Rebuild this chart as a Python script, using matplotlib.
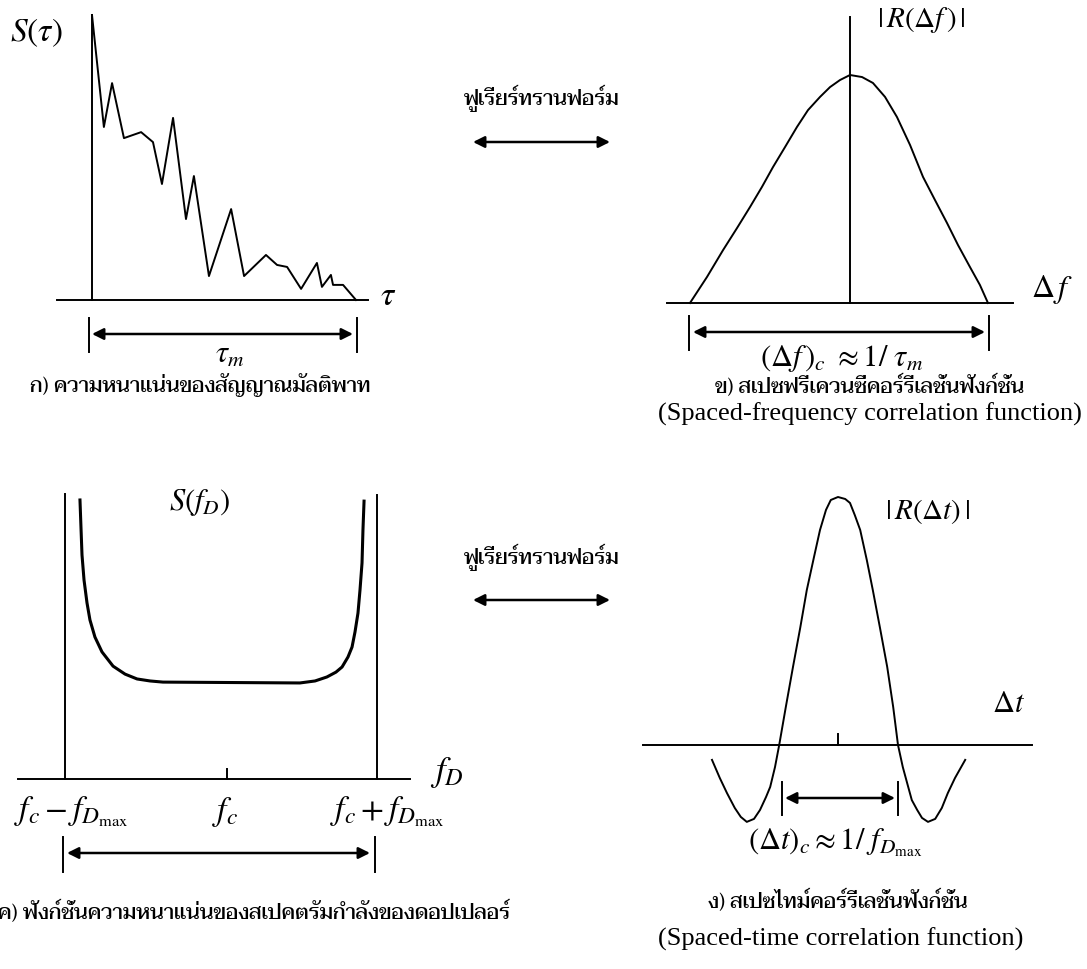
import matplotlib
matplotlib.use("Agg")
import matplotlib.pyplot as plt
from matplotlib.lines import Line2D
from matplotlib.patches import FancyArrowPatch

plt.rcParams['font.family'] = ['Liberation Serif', 'DejaVu Serif']
plt.rcParams['mathtext.fontset'] = 'stix'

THAI = ['Taviraj', 'Sarabun', 'Noto Serif Thai', 'Noto Sans Thai', 'Liberation Serif']

# ก) multipath delay profile S(tau), tau in units of tau_m
delay_tau = [0.0, 0.045, 0.076, 0.121, 0.186, 0.231, 0.265, 0.307, 0.356, 0.386,
             0.443, 0.527, 0.576, 0.659, 0.701, 0.739, 0.792, 0.852, 0.871, 0.905,
             0.913, 0.951, 1.0]
delay_power = [1.0, 0.607, 0.761, 0.568, 0.589, 0.554, 0.407, 0.639, 0.284, 0.435,
               0.084, 0.319, 0.084, 0.158, 0.123, 0.116, 0.039, 0.130, 0.046, 0.088,
               0.053, 0.053, 0.0]

# ข) spaced-frequency correlation |R(delta f)|
freq_sep = [-1.074, -0.960, -0.852, -0.758, -0.671, -0.591, -0.517, -0.436, -0.356,
            -0.282, -0.201, -0.134, -0.067, 0.0, 0.081, 0.154, 0.235, 0.315, 0.403,
            0.490, 0.570, 0.651, 0.725, 0.805, 0.872, 0.926]
freq_corr = [0.0, 0.114, 0.232, 0.329, 0.421, 0.509, 0.596, 0.684, 0.772, 0.846,
             0.904, 0.947, 0.978, 1.0, 0.991, 0.965, 0.904, 0.816, 0.693, 0.553,
             0.452, 0.351, 0.254, 0.158, 0.079, 0.0]

# ค) Doppler power spectrum S(f_D), f in units of f_Dmax
doppler_f = [-0.904, -0.897, -0.891, -0.878, -0.859, -0.840, -0.808, -0.763, -0.692,
             -0.615, -0.538, -0.455, -0.372, 0.506, 0.603, 0.679, 0.737, 0.776, 0.814,
             0.840, 0.859, 0.878, 0.891, 0.904, 0.910, 0.917]
doppler_psd = [0.979, 0.874, 0.786, 0.698, 0.618, 0.558, 0.498, 0.446, 0.396, 0.368,
               0.351, 0.344, 0.340, 0.337, 0.344, 0.358, 0.375, 0.393, 0.428, 0.463,
               0.516, 0.582, 0.663, 0.758, 0.874, 0.975]
doppler_fc = 0.04

# ง) spaced-time correlation |R(delta t)|
time_sep = [-2.10, -1.97, -1.85, -1.72, -1.62, -1.52, -1.40, -1.30, -1.20, -1.13,
            -1.05, -0.98, -0.87, -0.75, -0.63, -0.52, -0.40, -0.30, -0.20, -0.12,
            0.0, 0.12, 0.20, 0.28, 0.37, 0.48, 0.58, 0.70, 0.82, 0.92, 1.0, 1.08,
            1.17, 1.23, 1.32, 1.40, 1.50, 1.62, 1.73, 1.83, 1.95, 2.12]
time_corr = [-0.060, -0.133, -0.194, -0.254, -0.290, -0.310, -0.298, -0.262, -0.210,
             -0.169, -0.089, 0.0, 0.153, 0.315, 0.472, 0.625, 0.758, 0.867, 0.948,
             0.988, 1.0, 0.992, 0.976, 0.927, 0.867, 0.746, 0.625, 0.472, 0.315,
             0.153, 0.0, -0.089, -0.169, -0.222, -0.262, -0.294, -0.310, -0.298,
             -0.254, -0.194, -0.133, -0.060]

W, H = 1087, 969
LW = 1.4
fig = plt.figure(figsize=(W / 100, H / 100), dpi=100)


def fx(x):
    return x / W


def fy(y):
    return 1 - y / H


def make_panel(box, x0, xs, y0, ys):
    left, top, right, bottom = box
    ax = fig.add_axes([fx(left), fy(bottom), (right - left) / W, (bottom - top) / H])
    ax.set_xlim((left - x0) / xs, (right - x0) / xs)
    ax.set_ylim((y0 - bottom) / ys, (y0 - top) / ys)
    ax.axis('off')
    return ax


def line_px(xs, ys, lw=LW):
    fig.add_artist(Line2D([fx(v) for v in xs], [fy(v) for v in ys],
                          transform=fig.transFigure, color='black', lw=lw))


def arrow_px(x0, x1, y, lw=1.8):
    fig.add_artist(FancyArrowPatch(
        (fx(x0), fy(y)), (fx(x1), fy(y)), transform=fig.transFigure,
        arrowstyle='<|-|>', mutation_scale=17, color='black', lw=lw,
        shrinkA=0, shrinkB=0))


def text_px(x, y, s, size=20, ha='left', va='center', **kw):
    fig.text(fx(x), fy(y), s, fontsize=size, ha=ha, va=va, **kw)


def thai_px(x, y, s, size=15, ha='center'):
    fig.text(fx(x), fy(y), s, fontsize=size, ha=ha, va='center',
             family=THAI, fontweight='medium')


# ---- ก) panel
ax_a = make_panel((0, 0, 440, 420), 92, 264, 300, 285)
ax_a.plot(delay_tau, delay_power, color='black', lw=LW, clip_on=False)
line_px([57, 368], [300, 300])
line_px([92, 92], [300, 15])
line_px([89, 89], [318, 352])
line_px([357, 357], [318, 352])
arrow_px(92, 353, 334)
text_px(10, 33, r'$S(\tau)$', size=24)
text_px(380, 297, r'$\tau$', size=24)
text_px(230, 355, r'$\tau_m$', size=22, ha='center')
thai_px(200, 385, 'ก) ความหนาแน่นของสัญญาณมัลติพาท')

# ---- ข) panel
ax_b = make_panel((620, 0, 1087, 420), 850, 149, 303, 228)
ax_b.plot(freq_sep, freq_corr, color='black', lw=LW, clip_on=False)
line_px([667, 1013], [303, 303])
line_px([850, 850], [303, 17])
line_px([689, 689], [316, 350])
line_px([989, 989], [316, 350])
arrow_px(693, 985, 332)
text_px(877, 20, r'$|\,R(\Delta f\,)\,|$', size=21)
text_px(1031, 290, r'$\Delta\,f$', size=23)
text_px(842, 359, r'$(\Delta f\,)_c\ \approx 1/\ \tau_m$', size=22, ha='center')
thai_px(870, 386, 'ข) สเปซฟรีเควนซี่คอร์รีเลชั่นฟังก์ชั่น')
text_px(870, 414, '(Spaced-frequency correlation function)', size=19, ha='center')

# ---- Fourier transform arrows
thai_px(542, 98, 'ฟูเรียร์ทรานฟอร์ม')
arrow_px(473, 610, 142)
thai_px(542, 557, 'ฟูเรียร์ทรานฟอร์ม')
arrow_px(473, 610, 600)

# ---- ค) panel
ax_c = make_panel((0, 440, 560, 900), 221, 156, 779, 285)
ax_c.plot(doppler_f, doppler_psd, color='black', lw=2.2, clip_on=False)
line_px([18, 410], [779, 779])
line_px([65, 65], [779, 494])
line_px([377, 377], [779, 495])
line_px([221 + doppler_fc * 156] * 2, [779, 769])
line_px([63, 63], [837, 872])
line_px([375, 375], [837, 872])
arrow_px(67, 370, 853)
text_px(200, 502, r'$S(f_D)$', size=22, ha='center')
text_px(430, 772, r'$f_D$', size=25)
text_px(14, 812, r'$f_c - f_{D_{\mathrm{max}}}$', size=24)
text_px(225, 812, r'$f_c$', size=24, ha='center')
text_px(330, 812, r'$f_c + f_{D_{\mathrm{max}}}$', size=24)
thai_px(-2, 912, 'ค) ฟังก์ชั่นความหนาแน่นของสเปคตรัมกำลังของดอปเปลอร์', ha='left')

# ---- ง) panel
ax_d = make_panel((620, 440, 1087, 969), 838, 60, 745, 248)
ax_d.plot(time_sep, time_corr, color='black', lw=LW, clip_on=False)
line_px([643, 1032], [745, 745])
line_px([838, 838], [745, 734])
line_px([782, 782], [782, 815])
line_px([898, 898], [782, 815])
arrow_px(785, 895, 798)
text_px(885, 512, r'$|\,R(\Delta t)\,|$', size=21)
text_px(992, 705, r'$\Delta t$', size=22)
text_px(748, 843, r'$(\Delta t)_c \approx 1/\ f_{D_{\mathrm{max}}}$', size=22)
thai_px(838, 901, 'ง) สเปซไทม์คอร์รีเลชั่นฟังก์ชั่น')
text_px(841, 939, '(Spaced-time correlation function)', size=19, ha='center')

fig.savefig('out.png', dpi=100, facecolor='white')
